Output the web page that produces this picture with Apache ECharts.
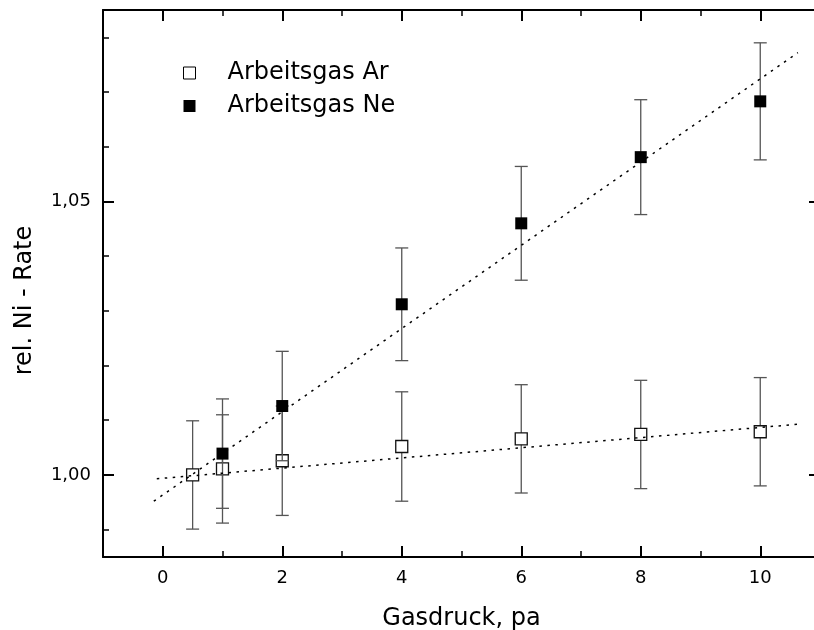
<!DOCTYPE html>
<html><head><meta charset="utf-8">
<script src="https://cdn.jsdelivr.net/npm/echarts@6/dist/echarts.min.js"></script>
<style>html,body{margin:0;padding:0;background:#fff}#c{width:814px;height:630px}</style>
</head><body><div id="c"></div>
<script>
// ---- data ----
const arX   = [0.5, 1, 2, 4, 6, 8, 10];
const arY   = [1.0000, 1.0011, 1.0026, 1.0052, 1.0066, 1.0074, 1.0079];
const arErr = [0.0099, 0.0099, 0.0100, 0.0100, 0.0099, 0.0099, 0.0099];
const neX   = [1, 2, 4, 6, 8, 10];
const neY   = [1.0039, 1.0126, 1.0312, 1.0460, 1.0581, 1.0683];
const neErr = [0.0100, 0.0100, 0.0103, 0.0104, 0.0105, 0.0107];
const arFitX = [-0.1, 10.66];
const arFitY = [0.9993, 1.0093];
const neFitX = [-0.15, 10.63];
const neFitY = [0.9952, 1.0772];
const xMajor = [0, 2, 4, 6, 8, 10];
const xMinor = [1, 3, 5, 7, 9];
const yMajor = [1.00, 1.05];
const yMinor = [0.99, 1.01, 1.02, 1.03, 1.04, 1.06, 1.07, 1.08];
const seriesNames = ['Arbeitsgas Ar', 'Arbeitsgas Ne'];

const FONT = 'DejaVu Sans';
const zip = (a, b) => a.map((v, i) => [v, b[i]]);
const errData = (xs, ys, es) => xs.map((x, i) => [x, ys[i] - es[i], ys[i] + es[i]]);

function renderErr(params, api) {
  const x = api.value(0), lo = api.value(1), hi = api.value(2);
  const a = api.coord([x, lo]), b = api.coord([x, hi]);
  const w = 6.5;
  const style = { stroke: '#555', lineWidth: 1.3, fill: null };
  return { type: 'group', children: [
    { type: 'line', shape: { x1: a[0], y1: a[1], x2: b[0], y2: b[1] }, style },
    { type: 'line', shape: { x1: a[0] - w, y1: a[1], x2: a[0] + w, y2: a[1] }, style },
    { type: 'line', shape: { x1: b[0] - w, y1: b[1], x2: b[0] + w, y2: b[1] }, style }
  ]};
}

const XMIN = -1, XMAX = 11, YMIN = 0.985, YMAX = 1.085;
const majLine = { color: '#000', width: 2 };
const minLine = { color: '#000', width: 1.5 };
function xAx(pos, ticks, len, showLine, labels) {
  return {
    type: 'value', min: XMIN, max: XMAX, position: pos,
    splitLine: { show: false },
    axisLine: { show: showLine, onZero: false, lineStyle: { color: '#000', width: 2 } },
    axisTick: { show: true, inside: true, length: len, customValues: ticks, lineStyle: len > 8 ? majLine : minLine },
    axisLabel: labels ? { show: true, customValues: labels, margin: 12, fontSize: 18, fontFamily: FONT, color: '#000' } : { show: false }
  };
}
function yAx(pos, ticks, len, showLine, labels) {
  return {
    type: 'value', min: YMIN, max: YMAX, position: pos,
    splitLine: { show: false },
    axisLine: { show: showLine, onZero: false, lineStyle: { color: '#000', width: 2 } },
    axisTick: { show: true, inside: true, length: len, customValues: ticks, lineStyle: len > 8 ? majLine : minLine },
    axisLabel: labels ? { show: true, customValues: labels, margin: 12, fontSize: 18, fontFamily: FONT, color: '#000',
      formatter: v => Number(v).toFixed(2).replace('.', ',') } : { show: false }
  };
}

const xAxes = [
  xAx('bottom', xMajor, 11, true, xMajor),
  xAx('bottom', xMinor, 6, false, null),
  xAx('top', xMajor, 11, true, null),
  xAx('top', xMinor, 6, false, null)
];
Object.assign(xAxes[0], { name: 'Gasdruck, pa', nameLocation: 'middle', nameGap: 50,
  nameTextStyle: { fontSize: 24, fontFamily: FONT, color: '#000' } });
const yAxes = [
  yAx('left', yMajor, 11, true, yMajor),
  yAx('left', yMinor, 6, false, null),
  yAx('right', yMajor, 11, true, null),
  yAx('right', yMinor, 6, false, null)
];
Object.assign(yAxes[0], { name: 'rel. Ni - Rate', nameLocation: 'middle', nameGap: 66,
  nameTextStyle: { fontSize: 24, fontFamily: FONT, color: '#000', padding: [0, 34, 0, 0] } });

const chart = echarts.init(document.getElementById('c'), null, { renderer: 'canvas' });
chart.setOption({
  animation: false,
  backgroundColor: '#fff',
  grid: { left: 103, top: 10, bottom: 73, right: -6, containLabel: false, outerBoundsMode: 'none' },
  legend: {
    orient: 'vertical', left: 183, top: 60, padding: 0, itemWidth: 12, itemHeight: 12, itemGap: 7,
    textStyle: { fontSize: 24, fontFamily: FONT, color: '#000', lineHeight: 26, padding: [0, 0, 0, 27] },
    data: [
      { name: seriesNames[0], icon: 'rect', itemStyle: { color: '#fff', borderColor: '#000', borderWidth: 1, opacity: 1 } },
      { name: seriesNames[1], icon: 'rect', itemStyle: { color: '#000', opacity: 1 } }
    ]
  },
  xAxis: xAxes,
  yAxis: yAxes,
  series: [
    { type: 'custom', name: seriesNames[0] + ' err', renderItem: renderErr, data: errData(arX, arY, arErr),
      encode: { x: 0, y: [1, 2] }, z: 1, silent: true },
    { type: 'scatter', name: seriesNames[0], data: zip(arX, arY), symbol: 'rect', symbolSize: 12, z: 2,
      itemStyle: { color: '#fff', borderColor: '#111', borderWidth: 1.3, opacity: 1 } },
    { type: 'custom', name: seriesNames[1] + ' err', renderItem: renderErr, data: errData(neX, neY, neErr),
      encode: { x: 0, y: [1, 2] }, z: 3, silent: true },
    { type: 'scatter', name: seriesNames[1], data: zip(neX, neY), symbol: 'rect', symbolSize: 12, z: 4,
      itemStyle: { color: '#000', opacity: 1 } },
    { type: 'line', name: 'fit Ar', data: zip(arFitX, arFitY), showSymbol: false, symbol: 'none', z: 5,
      lineStyle: { color: '#000', width: 1.5, type: [2.5, 5.5] } },
    { type: 'line', name: 'fit Ne', data: zip(neFitX, neFitY), showSymbol: false, symbol: 'none', z: 5,
      lineStyle: { color: '#000', width: 1.5, type: [2.5, 5.5] } }
  ]
});
</script>
</body></html>
